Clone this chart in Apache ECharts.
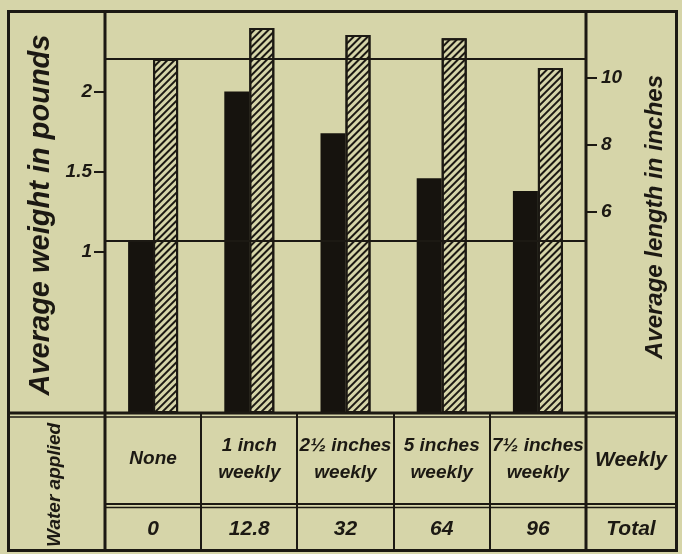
<!DOCTYPE html>
<html><head><meta charset="utf-8">
<script src="https://cdn.jsdelivr.net/npm/echarts/dist/echarts.min.js"></script>
<style>html,body{margin:0;padding:0;background:#d6d5a9;} #c{width:682px;height:554px;}</style>
</head><body><div id="c"></div>
<script>
// ---- data ----
const categories = ['None', '1 inch\nweekly', '2½ inches\nweekly', '5 inches\nweekly', '7½ inches\nweekly'];
const totalWater = ['0', '12.8', '32', '64', '96'];
const weightLb = [1.07, 2.0, 1.74, 1.46, 1.38];
const lengthIn = [10.57, 11.49, 11.28, 11.19, 10.3];
const weightTicks = [1, 1.5, 2];
const lengthTicks = [6, 8, 10];
const weightTitle = 'Average weight in pounds';
const lengthTitle = 'Average length in inches';
const rowTitle = 'Water applied';
const weeklyLabel = 'Weekly';
const totalLabel = 'Total';

// ---- style / layout ----
const paper = '#d6d5a9';
const ink = '#1c1913';
const FONT = '"Liberation Sans", Arial, sans-serif';
const gl = 105, gr = 586, gt = 11, gb = 413;
const rowSplit = 505, tableBottom = 550, outerL = 8, outerR = 676;
const colW = (gr - gl) / categories.length;

const txt = (extra) => Object.assign({fontFamily: FONT, fontStyle: 'italic', fontWeight: 'bold', color: ink}, extra);

const chart = echarts.init(document.getElementById('c'), null, {renderer: 'canvas'});

const graphics = [];
function line(x1, y1, x2, y2, w) {
  graphics.push({type: 'line', silent: true, z: 10, shape: {x1, y1, x2, y2}, style: {stroke: ink, lineWidth: w}});
}
function text(str, x, y, size, rot) {
  graphics.push({type: 'text', silent: true, z: 10, x, y, rotation: rot || 0,
    style: {text: str, fill: ink, font: 'italic bold ' + size + 'px ' + FONT, align: 'center', verticalAlign: 'middle'}});
}
// outer frame
graphics.push({type: 'rect', silent: true, z: 10, shape: {x: outerL + 0.5, y: gt + 0.5, width: outerR - outerL, height: tableBottom - gt}, style: {fill: 'none', stroke: ink, lineWidth: 3}});
line(gl, gt, gl, tableBottom, 3);
line(gr, gt, gr, tableBottom, 3);
line(outerL, gb, outerR, gb, 3);
line(outerL, gb + 4, outerR, gb + 4, 1.5);
line(gl, rowSplit - 1, outerR, rowSplit - 1, 2);
line(gl, rowSplit + 2.5, outerR, rowSplit + 2.5, 1.5);
for (let i = 1; i < categories.length; i++) {
  const x = Math.round(gl + i * colW);
  line(x, gb, x, tableBottom, 2);
}
text(weightTitle, 41, 215, 29, Math.PI / 2);
text(lengthTitle, 655, 217, 24, Math.PI / 2);
text(rowTitle, 55, 485, 19, Math.PI / 2);
text(weeklyLabel, 631, 460, 21, 0);
text(totalLabel, 631, 529, 21, 0);

const tickStyle = {lineStyle: {color: ink, width: 2}};
chart.setOption({
  backgroundColor: paper,
  animation: false,
  grid: {left: gl, right: 682 - gr, top: gt, bottom: 554 - gb, containLabel: false},
  xAxis: [
    {type: 'category', data: categories, position: 'bottom', offset: 0,
     axisLine: {show: false}, axisTick: {show: false}, splitLine: {show: false},
     axisLabel: txt({interval: 0, margin: 46, verticalAlign: 'middle', fontSize: 19, lineHeight: 27})},
    {type: 'category', data: totalWater, position: 'bottom', offset: 0,
     axisLine: {show: false}, axisTick: {show: false}, splitLine: {show: false},
     axisLabel: txt({interval: 0, margin: 116, verticalAlign: 'middle', fontSize: 21})}
  ],
  yAxis: [
    {type: 'value', min: 0, max: 2.5, position: 'left',
     axisLine: {show: false}, splitLine: {show: false},
     axisTick: Object.assign({show: true, length: 11, customValues: weightTicks}, tickStyle),
     axisLabel: txt({customValues: weightTicks, margin: 13, fontSize: 19})},
    {type: 'value', min: 0, max: 12, position: 'right',
     axisLine: {show: false}, splitLine: {show: false},
     axisTick: Object.assign({show: true, length: 11, customValues: lengthTicks}, tickStyle),
     axisLabel: txt({customValues: lengthTicks, margin: 15, fontSize: 19})}
  ],
  series: [
    {type: 'bar', name: 'weight', data: weightLb, xAxisIndex: 0, yAxisIndex: 0,
     barWidth: 25, barGap: '0%', silent: true,
     itemStyle: {color: '#16130e'},
     markLine: {silent: true, symbol: 'none', label: {show: false},
       lineStyle: {color: ink, width: 2, type: 'solid'}, data: [{yAxis: weightLb[0]}]}},
    {type: 'bar', name: 'length', data: lengthIn, xAxisIndex: 0, yAxisIndex: 1,
     barWidth: 25, barGap: '0%', silent: true,
     itemStyle: {color: paper, borderColor: ink, borderWidth: 2,
       decal: {symbol: 'rect', symbolSize: 1, dashArrayX: [1, 0], dashArrayY: [2, 3], rotation: -Math.PI / 4, color: ink}},
     markLine: {silent: true, symbol: 'none', label: {show: false},
       lineStyle: {color: ink, width: 2, type: 'solid'}, data: [{yAxis: lengthIn[0]}]}}
  ],
  graphic: graphics
});
</script>
</body></html>
